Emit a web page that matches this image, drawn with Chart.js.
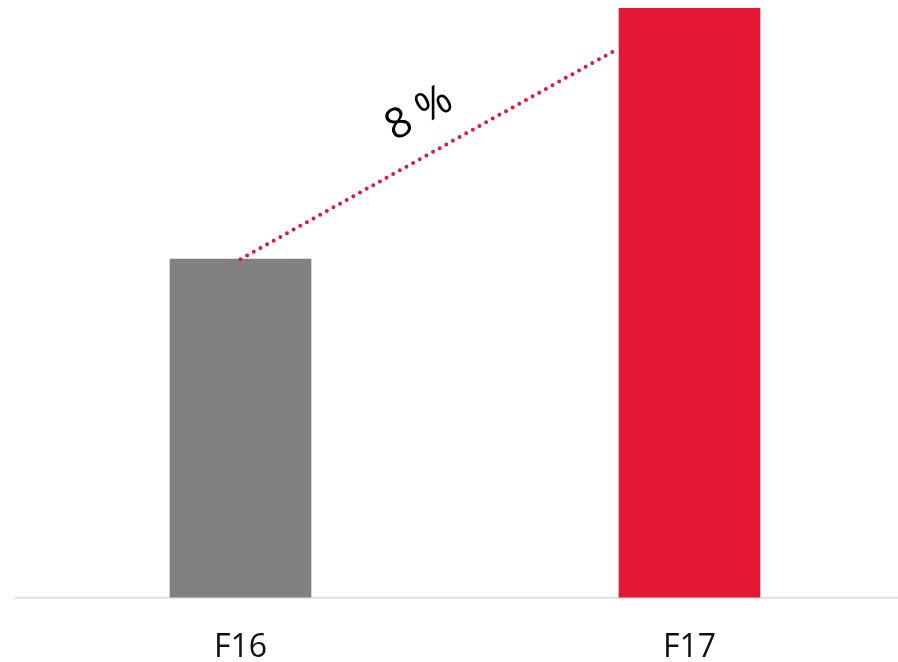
<!DOCTYPE html>
<html>
<head>
<meta charset="utf-8">
<script src="https://cdn.jsdelivr.net/npm/chart.js@4/dist/chart.umd.min.js"></script>
<style>
  html, body { margin: 0; padding: 0; background: #fff; overflow: hidden; }
  #wrap { width: 914px; height: 690px; }
</style>
</head>
<body>
<div id="wrap"><canvas id="growthChart"></canvas></div>
<script>
const categories = ["F16", "F17"];
const values = [57.4, 100];
const barColors = ["#808080", "#E31837"];
const growthLabel = "8 %";
// where the dotted growth line ends on the F17 bar (value units)
const growthEnd = 92.9;

// dotted line from the top of F16 to the side of F17, with the rotated label
const growthLine = {
  id: "growthLine",
  afterDatasetsDraw(chart) {
    const ctx = chart.ctx;
    const y = chart.scales.y;
    const bars = chart.getDatasetMeta(0).data;
    const x0 = bars[0].x;
    const y0 = y.getPixelForValue(values[0]);
    const x1 = bars[1].x - bars[1].width / 2 - 3;
    const y1 = y.getPixelForValue(growthEnd);

    ctx.save();
    ctx.strokeStyle = "#E31837";
    ctx.lineWidth = 4;
    ctx.lineCap = "round";
    ctx.setLineDash([0, 7.6]);
    ctx.beginPath();
    ctx.moveTo(x0, y0);
    ctx.lineTo(x1, y1);
    ctx.stroke();
    ctx.restore();

    const angle = Math.atan2(y1 - y0, x1 - x0);
    const mx = (x0 + x1) / 2;
    const my = (y0 + y1) / 2;
    ctx.save();
    ctx.translate(mx, my);
    ctx.rotate(angle);
    ctx.fillStyle = "#000";
    ctx.font = "42px 'Open Sans'";
    ctx.textAlign = "center";
    ctx.textBaseline = "middle";
    ctx.fillText(growthLabel, 12, -40);
    ctx.restore();
  }
};

new Chart(document.getElementById("growthChart"), {
  type: "bar",
  data: {
    labels: categories,
    datasets: [
      {
        data: values,
        backgroundColor: barColors,
        barThickness: 141,
      },
    ],
  },
  options: {
    responsive: true,
    maintainAspectRatio: false,
    animation: false,
    layout: { padding: { left: 16, right: 0, top: 8, bottom: 0 } },
    plugins: { legend: { display: false }, tooltip: { enabled: false } },
    scales: {
      x: {
        grid: { display: false },
        border: { display: true, color: "#d9d9d9", width: 1.5 },
        ticks: {
          color: "#111",
          padding: 23,
          font: { family: "'Open Sans'", size: 32 },
        },
      },
      y: {
        display: false,
        min: 0,
        max: 100,
      },
    },
  },
  plugins: [growthLine],
});
</script>
</body>
</html>
